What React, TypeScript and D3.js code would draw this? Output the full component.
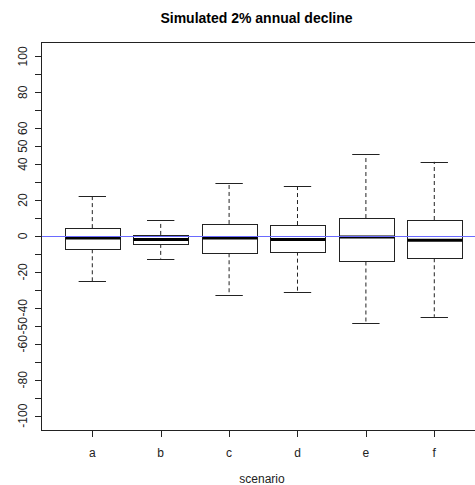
import React, { useEffect, useRef } from "react";
import * as d3 from "d3";

// box stats
const scenarios = ["a", "b", "c", "d", "e", "f"];
const lowerWhisker = [-25.2, -12.6, -32.6, -30.9, -48.7, -45.0];
const lowerHinge = [-7.4, -4.4, -9.6, -8.7, -14.2, -12.4];
const medians = [-1.1, -2.0, -1.1, -2.0, -0.6, -2.4];
const upperHinge = [4.4, 0.6, 6.7, 6.1, 10.0, 8.9];
const upperWhisker = [22.2, 8.7, 29.7, 27.8, 45.4, 41.3];

const yTickValues = d3.range(-100, 101, 10);
const yTickLabels = [100, 80, 60, 50, 40, 20, 0, -20, -40, -50, -60, -80, -100];

const App = () => {
  const ref = useRef<SVGSVGElement | null>(null);

  useEffect(() => {
    const width = 475;
    const height = 485;
    const font = "'Liberation Sans', Arial, sans-serif";
    const ink = "#222";

    const svg = d3.select(ref.current);
    svg.selectAll("*").remove();

    const x = d3.scaleLinear().domain([0.26, 6.74]).range([41.7, 484.9]);
    const y = d3.scaleLinear().domain([-108, 108]).range([430, 42]);
    const step = x(2) - x(1);
    const boxW = step * 0.8;
    const capW = boxW * 0.5;

    const data = scenarios.map((s, i) => ({
      s,
      i: i + 1,
      lo: lowerWhisker[i],
      q1: lowerHinge[i],
      med: medians[i],
      q3: upperHinge[i],
      hi: upperWhisker[i],
    }));

    const g = svg.append("g");

    // whiskers
    const wh = g.append("g").attr("stroke", ink).attr("stroke-dasharray", "4,3");
    wh.selectAll("line.up")
      .data(data)
      .join("line")
      .attr("class", "up")
      .attr("x1", (d) => x(d.i))
      .attr("x2", (d) => x(d.i))
      .attr("y1", (d) => y(d.q3))
      .attr("y2", (d) => y(d.hi));
    wh.selectAll("line.dn")
      .data(data)
      .join("line")
      .attr("class", "dn")
      .attr("x1", (d) => x(d.i))
      .attr("x2", (d) => x(d.i))
      .attr("y1", (d) => y(d.q1))
      .attr("y2", (d) => y(d.lo));

    // caps
    const caps = g.append("g").attr("stroke", ink);
    ["hi", "lo"].forEach((k) => {
      caps
        .selectAll(`line.${k}`)
        .data(data)
        .join("line")
        .attr("class", k)
        .attr("x1", (d) => x(d.i) - capW / 2)
        .attr("x2", (d) => x(d.i) + capW / 2)
        .attr("y1", (d: any) => Math.round(y(d[k])) + 0.5)
        .attr("y2", (d: any) => Math.round(y(d[k])) + 0.5);
    });

    // boxes
    g.append("g")
      .selectAll("rect")
      .data(data)
      .join("rect")
      .attr("x", (d) => Math.round(x(d.i) - boxW / 2) + 0.5)
      .attr("width", Math.round(boxW))
      .attr("y", (d) => Math.round(y(d.q3)) + 0.5)
      .attr("height", (d) => Math.round(y(d.q1) - y(d.q3)))
      .attr("fill", "#fff")
      .attr("stroke", ink);

    // medians
    g.append("g")
      .selectAll("line")
      .data(data)
      .join("line")
      .attr("x1", (d) => Math.round(x(d.i) - boxW / 2) + 0.5)
      .attr("x2", (d) => Math.round(x(d.i) - boxW / 2) + 0.5 + Math.round(boxW))
      .attr("y1", (d) => y(d.med))
      .attr("y2", (d) => y(d.med))
      .attr("stroke", "#000")
      .attr("stroke-width", 3);

    // reference line at 0
    svg
      .append("line")
      .attr("x1", x.range()[0])
      .attr("x2", width)
      .attr("y1", Math.round(y(0)) + 0.5)
      .attr("y2", Math.round(y(0)) + 0.5)
      .attr("stroke", "#6a6aff");

    // frame
    svg
      .append("rect")
      .attr("x", 41.5)
      .attr("y", 42.5)
      .attr("width", 450)
      .attr("height", 388)
      .attr("fill", "none")
      .attr("stroke", ink);

    // y axis ticks
    svg
      .append("g")
      .selectAll("line")
      .data(yTickValues)
      .join("line")
      .attr("x1", 35)
      .attr("x2", 41.5)
      .attr("y1", (d) => Math.round(y(d)) + 0.5)
      .attr("y2", (d) => Math.round(y(d)) + 0.5)
      .attr("stroke", ink);

    svg
      .append("g")
      .selectAll("text")
      .data(yTickLabels)
      .join("text")
      .attr("transform", (d) => `translate(27,${y(d)}) rotate(-90)`)
      .attr("text-anchor", "middle")
      .attr("font-family", font)
      .attr("font-size", 12)
      .attr("fill", ink)
      .text((d) => d);

    // x axis ticks
    svg
      .append("g")
      .selectAll("line")
      .data(data)
      .join("line")
      .attr("x1", (d) => Math.round(x(d.i)) + 0.5)
      .attr("x2", (d) => Math.round(x(d.i)) + 0.5)
      .attr("y1", 430.5)
      .attr("y2", 437)
      .attr("stroke", ink);

    svg
      .append("g")
      .selectAll("text")
      .data(data)
      .join("text")
      .attr("x", (d) => x(d.i))
      .attr("y", 457)
      .attr("text-anchor", "middle")
      .attr("font-family", font)
      .attr("font-size", 12)
      .attr("fill", ink)
      .text((d) => d.s);

    svg
      .append("text")
      .attr("x", 262)
      .attr("y", 483)
      .attr("text-anchor", "middle")
      .attr("font-family", font)
      .attr("font-size", 12)
      .attr("fill", ink)
      .text("scenario");

    svg
      .append("text")
      .attr("x", 256.5)
      .attr("y", 23)
      .attr("text-anchor", "middle")
      .attr("font-family", font)
      .attr("font-size", 14)
      .attr("font-weight", "bold")
      .text("Simulated 2% annual decline");

    svg.attr("width", width).attr("height", height);
  }, []);

  return (
    <svg
      ref={ref}
      width={475}
      height={485}
      style={{ position: "absolute", left: 0, top: 0, background: "#fff" }}
    />
  );
};

export default App;
